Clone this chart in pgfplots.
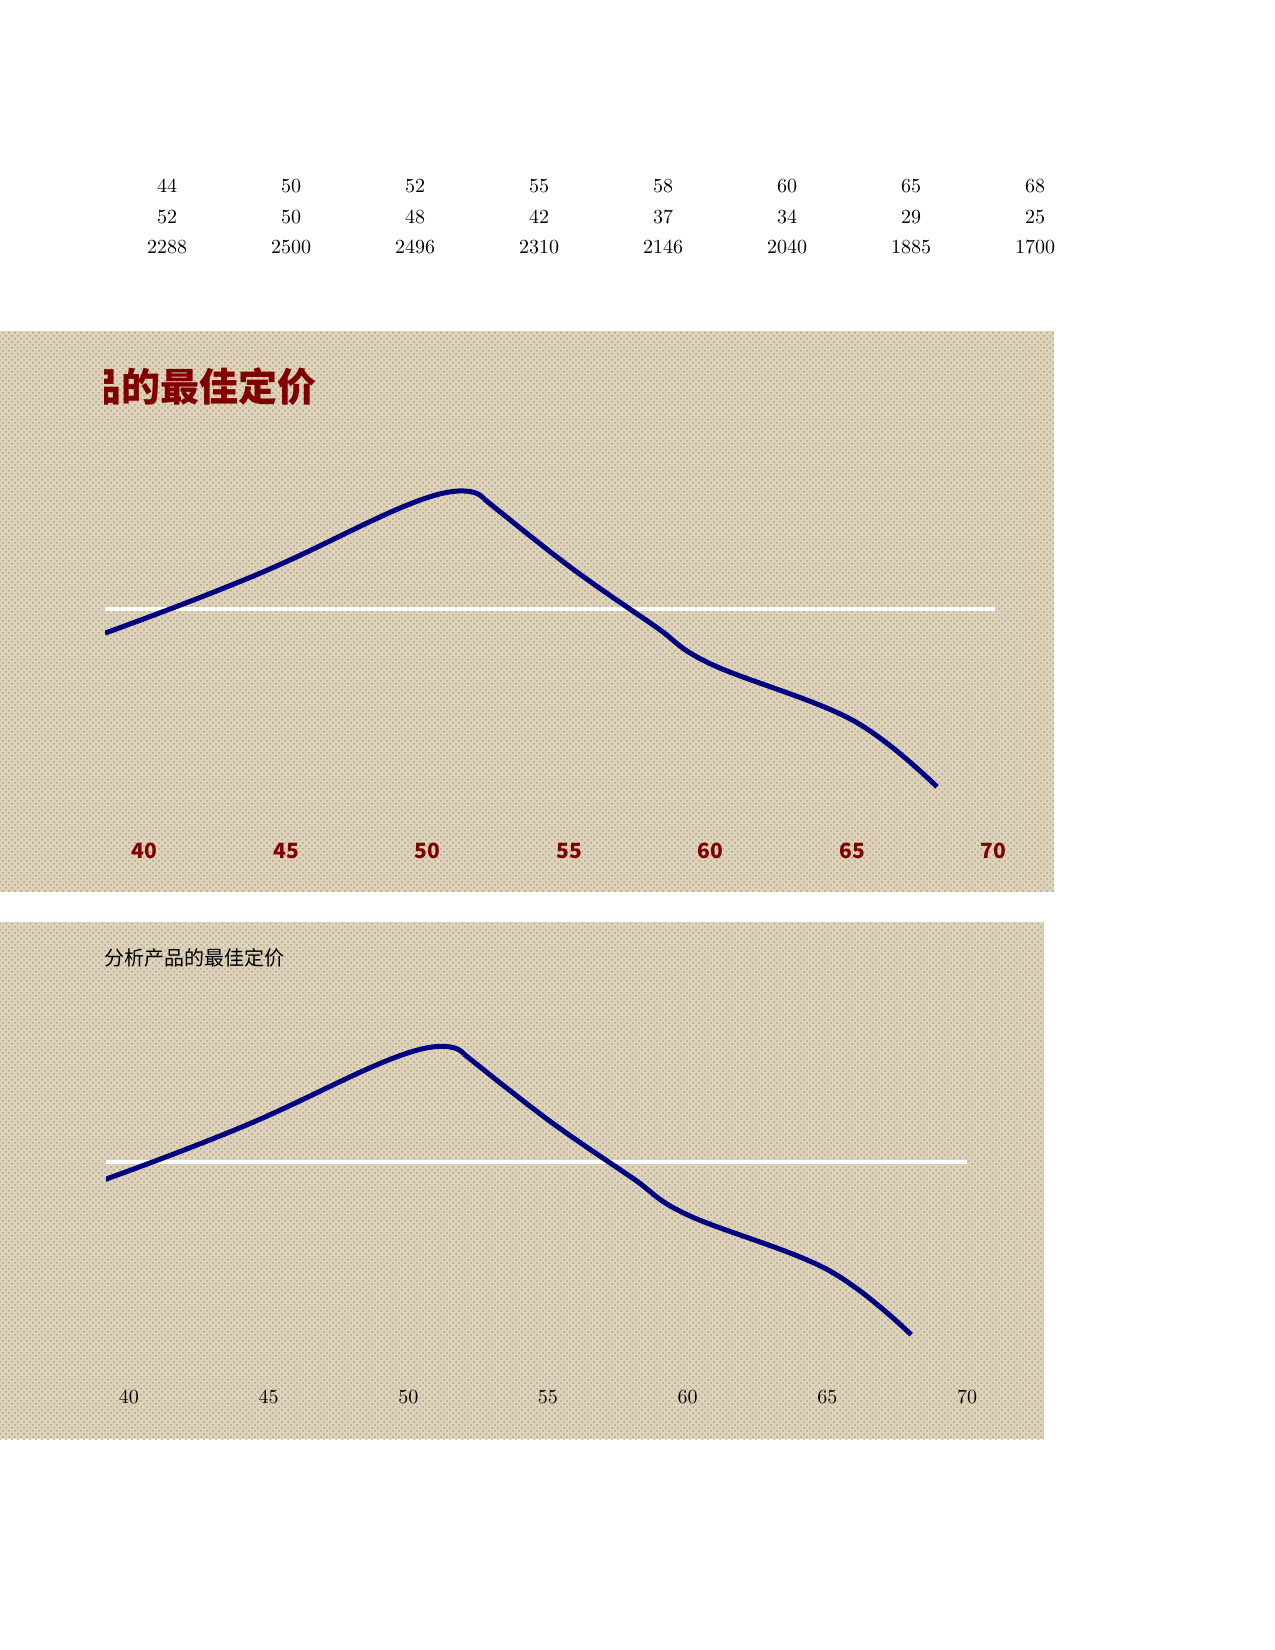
\documentclass[border=0pt]{standalone}
\usepackage{pgfplots}
\pgfplotsset{compat=1.18}
\usepackage{pgfplotstable}
\usepackage{fontspec}
\usetikzlibrary{patterns}
\newfontfamily\cjk{Noto Sans CJK SC}

\definecolor{titlered}{RGB}{128,0,0}
\definecolor{navyline}{RGB}{0,0,128}
\definecolor{linen}{RGB}{222,211,187}
\definecolor{linendark}{RGB}{178,163,137}

% price / revenue (first row: where the line enters the plot area)
\pgfplotstableread{
price revenue
38.6  2125
44    2288
50    2500
52    2496
55    2310
58    2146
60    2040
65    1885
68    1700
}\revtab

\pgfplotsset{
  pricechart/.style={
    scale only axis,
    axis line style={draw=none},
    axis background/.style={fill=none},
    ymin=1600, ymax=2800,
    ytick=\empty,
    xtick={40,45,...,70},
    major tick length=0pt,
    clip=true,
  },
  revline/.style={navyline, line width=2.5pt, smooth, line join=round},
}

\begin{document}
\begin{tikzpicture}
\begin{scope}[x=0.5pt,y=-0.5pt]
  \path[use as bounding box, fill=white] (0,0) rectangle (1275,1650);
  % data table above the charts
  \foreach \v [count=\i from 0] in {44,50,52,55,58,60,65,68}
    \node at ({167+124*\i},186) {\v};
  \foreach \v [count=\i from 0] in {52,50,48,42,37,34,29,25}
    \node at ({167+124*\i},217) {\v};
  \foreach \v [count=\i from 0] in {2288,2500,2496,2310,2146,2040,1885,1700}
    \node at ({167+124*\i},247) {\v};
  % textured chart backgrounds
  \fill[linen] (0,331) rectangle (1054,892);
  \fill[pattern=crosshatch dots, pattern color=linendark] (0,331) rectangle (1054,892);
  \fill[linen] (0,922) rectangle (1044,1439);
  \fill[pattern=crosshatch dots, pattern color=linendark] (0,922) rectangle (1044,1439);
  % titles
  \begin{scope}
    \clip (104,340) rectangle (600,420);
    \node[anchor=east, inner sep=0pt, font=\cjk\bfseries\fontsize{19.5}{22}\selectfont, text=titlered]
      at (317,387) {分析产品的最佳定价};
  \end{scope}
  \node[anchor=west, inner sep=0pt, font=\cjk\fontsize{10}{12}\selectfont]
    at (104,958) {分析产品的最佳定价};
\end{scope}

% chart 1
\begin{axis}[pricechart,
  at={(52.5pt,-411.5pt)}, anchor=south west,
  width=445pt, height=217pt,
  xmin=38.6, xmax=70.05,
  xticklabel style={anchor=center, yshift=-14pt, text=titlered,
    font=\cjk\bfseries\fontsize{10.5}{12}\selectfont},
  /pgf/number format/assume math mode=true,
]
\addplot[white, line width=2pt] coordinates {(38.6,2192) (70.05,2192)};
\addplot[revline, tension=0.75, restrict x to domain=38:52] table[x=price, y=revenue] {\revtab};
\addplot[revline, tension=0.62, restrict x to domain=52:69] table[x=price, y=revenue] {\revtab};
\end{axis}

% chart 2
\begin{axis}[pricechart,
  at={(53pt,-685pt)}, anchor=south west,
  width=430.5pt, height=211.5pt,
  xmin=39.18, xmax=70,
  xticklabel style={anchor=center, yshift=-13.5pt, text=black},
]
\addplot[white, line width=2pt] coordinates {(39.18,2190) (70,2190)};
\addplot[revline, tension=0.75, restrict x to domain=38:52] table[x=price, y=revenue] {\revtab};
\addplot[revline, tension=0.62, restrict x to domain=52:69] table[x=price, y=revenue] {\revtab};
\end{axis}
\end{tikzpicture}
\end{document}
